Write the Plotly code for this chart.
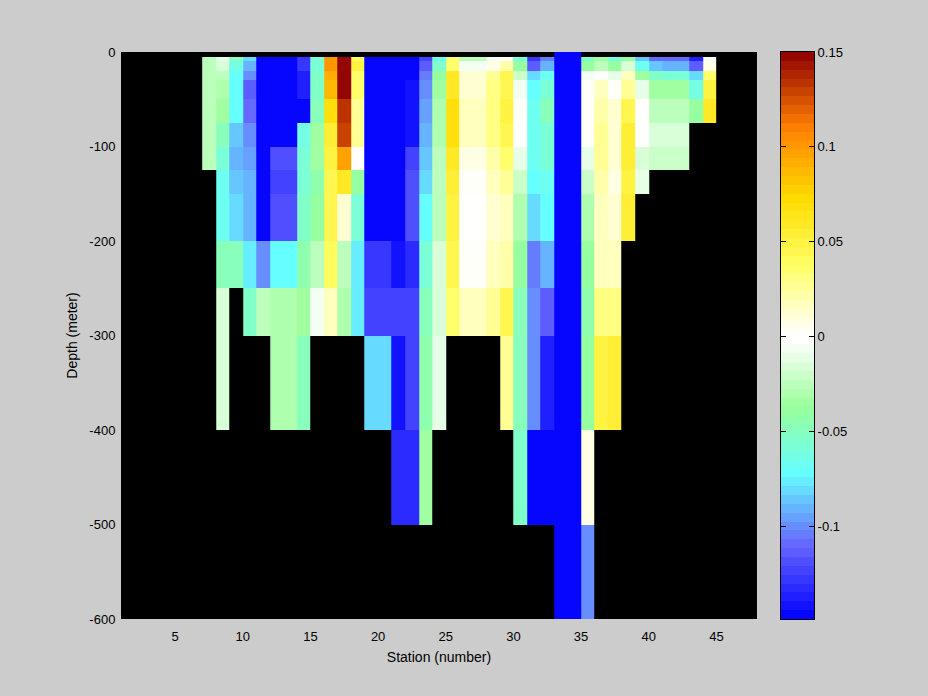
import numpy as np
import plotly.graph_objects as go

N = None
depth_edges = [0, -5, -10, -20, -30, -50, -75, -100, -125, -150, -200, -250, -300, -400, -500, -600]
station_edges = list(range(7, 46))

s07 = [N,-.027,-.027,-.027,-.027,-.027,-.027,-.027,N,N,N,N,N,N,N]
s08 = [N,-.013,-.018,-.024,-.030,-.035,-.050,-.060,-.068,-.068,-.050,-.017,-.017,N,N]
s09 = [N,-.050,-.062,-.070,-.072,-.072,-.085,-.090,-.085,-.082,-.048,N,N,N,N]
s10 = [N,-.082,-.092,-.100,-.115,-.110,-.100,-.093,-.090,-.090,-.078,-.052,N,N,N]
s11 = [N,-.145,-.145,-.145,-.145,-.145,-.145,-.145,-.145,-.145,-.102,-.027,N,N,N]
s12 = [N,-.145,-.145,-.145,-.145,-.145,-.145,-.118,-.124,-.117,-.072,-.032,-.032,N,N]
s13 = [N,-.145,-.145,-.145,-.145,-.145,-.145,-.118,-.124,-.117,-.072,-.032,-.032,N,N]
s14 = [N,-.126,-.130,-.139,-.136,-.145,-.062,-.056,-.058,-.055,-.044,-.035,-.050,N,N]
s15 = [N,-.060,-.060,-.055,-.055,-.047,-.036,-.036,-.043,-.037,-.023,-.008,N,N,N]
s16 = [N,.103,.103,.093,.087,.070,.056,.048,.046,.045,.042,.018,N,N,N]
s17 = [N,.148,.148,.148,.148,.133,.128,.095,.058,.014,-.025,-.030,N,N,N]
s18 = [N,.040,.050,.036,.036,.025,.026,-.002,-.037,-.057,-.075,-.075,N,N,N]
s19 = [N,-.145,-.145,-.145,-.145,-.145,-.145,-.145,-.145,-.145,-.130,-.124,-.083,N,N]
s20 = [N,-.145,-.145,-.145,-.145,-.145,-.145,-.145,-.145,-.145,-.130,-.124,-.083,N,N]
s21 = [N,-.145,-.145,-.145,-.145,-.145,-.145,-.145,-.145,-.145,-.144,-.124,-.143,-.134,N]
s22 = [N,-.145,-.145,-.145,-.143,-.143,-.143,-.122,-.117,-.118,-.132,-.124,-.122,-.134,N]
s23 = [N,-.122,-.113,-.105,-.098,-.094,-.092,-.086,-.080,-.072,-.060,-.050,-.045,-.033,N]
s24 = [N,-.065,-.053,-.040,-.036,-.031,-.028,-.027,-.023,-.023,-.017,-.017,-.009,N,N]
s25 = [N,.036,.036,.058,.060,.068,.068,.058,.055,.050,.045,.037,N,N,N]
s26 = [N,-.025,-.008,.012,.012,.019,.019,.008,.004,-.002,.004,.016,N,N,N]
s27 = [N,-.025,-.008,.012,.012,.019,.019,.008,.004,-.002,.004,.016,N,N,N]
s28 = [N,-.008,.007,.025,.032,.032,.032,.023,.015,.012,.015,.024,N,N,N]
s29 = [N,.000,.023,.044,.044,.050,.046,.036,.024,.016,.020,.045,.025,N,N]
s30 = [N,-.060,-.039,-.021,-.008,.004,-.002,-.012,-.020,-.028,-.037,-.048,-.048,-.055,N]
s31 = [N,-.126,-.113,-.082,-.072,-.066,-.066,-.068,-.072,-.082,-.103,-.102,-.098,-.145,N]
s32 = [N,-.103,-.090,-.068,-.058,-.050,-.057,-.060,-.065,-.072,-.092,-.115,-.138,-.145,N]
s33 = [-.148]*15
s34 = [-.148]*15
s35 = [N,-.052,-.037,-.008,.004,.004,.004,-.012,-.021,-.032,-.038,-.044,-.040,.006,-.100]
s36 = [N,-.035,-.025,.005,.016,.023,.027,.025,.020,.015,.015,.030,.050,N,N]
s37 = [N,-.062,-.040,-.012,.004,.010,.014,.014,.008,.012,.019,.030,.052,N,N]
s38 = [N,-.038,-.016,.015,.028,.043,.055,.052,.050,.052,N,N,N,N,N]
s39 = [N,-.085,-.065,-.033,-.012,-.002,-.002,-.017,-.010,N,N,N,N,N,N]
s40 = [N,-.110,-.087,-.053,-.036,-.024,-.018,-.022,N,N,N,N,N,N,N]
s41 = [N,-.110,-.092,-.060,-.036,-.026,-.018,-.022,N,N,N,N,N,N,N]
s42 = [N,-.110,-.092,-.060,-.036,-.026,-.018,-.022,N,N,N,N,N,N,N]
s43 = [N,-.139,-.113,-.082,-.062,-.041,N,N,N,N,N,N,N,N,N]
s44 = [N,-.007,.009,.035,.050,.058,N,N,N,N,N,N,N,N,N]

columns = [s07,s08,s09,s10,s11,s12,s13,s14,s15,s16,s17,s18,s19,s20,s21,s22,s23,s24,s25,s26,
           s27,s28,s29,s30,s31,s32,s33,s34,s35,s36,s37,s38,s39,s40,s41,s42,s43,s44]

x_ticks = [5, 10, 15, 20, 25, 30, 35, 40, 45]
y_ticks = [0, -100, -200, -300, -400, -500, -600]
y_labels = ["0", "-100", "-200", "-300", "-400", "-500", "-600"]
c_ticks = [-0.1, -0.05, 0, 0.05, 0.1, 0.15]
c_labels = ["-0.1", "-0.05", "0", "0.05", "0.1", "0.15"]
z_min, z_max = -0.149, 0.15

anchors = [(-0.149,(0,0,255)),(-0.11,(102,102,255)),(-0.072,(102,255,255)),(-0.037,(153,255,153)),
           (-0.003,(255,255,255)),(0.003,(255,255,250)),(0.037,(255,255,102)),(0.0725,(255,220,0)),
           (0.11,(255,128,0)),(0.15,(140,0,0))]
n_bands = 64
band_edges = np.linspace(z_min, z_max, n_bands + 1)
band_mid = (band_edges[:-1] + band_edges[1:]) / 2
vals = [a[0] for a in anchors]
rgb = np.array([[np.interp(m, vals, [a[1][i] for a in anchors]) for i in range(3)] for m in band_mid]).round().astype(int)
colorscale = []
for i in range(n_bands):
    c = f"rgb({rgb[i][0]},{rgb[i][1]},{rgb[i][2]})"
    colorscale.append([i / n_bands, c])
    colorscale.append([(i + 1) / n_bands, c])

W, H = 928, 696
L, R, T, B = 121, 114, 52, 77
PW = W - L - R
FONT = dict(family="Liberation Sans", size=13, color="black")

z = np.array([[np.nan if v is None else v for v in col] for col in columns], dtype=float).T

fig = go.Figure()
fig.add_trace(go.Heatmap(x=station_edges, y=depth_edges, z=z, zmin=z_min, zmax=z_max,
                         colorscale=colorscale, showscale=False, hoverongaps=False, xaxis="x", yaxis="y"))
fig.add_trace(go.Heatmap(x=[0, 1], y=band_edges, z=band_mid.reshape(-1, 1), zmin=z_min, zmax=z_max,
                         colorscale=colorscale, showscale=False, xaxis="x2", yaxis="y2"))

fig.update_layout(
    width=W, height=H, margin=dict(l=L, r=R, t=T, b=B, autoexpand=False),
    paper_bgcolor="#cccccc", plot_bgcolor="black", font=FONT, showlegend=False,
    xaxis=dict(domain=[0, 636/PW], range=[1, 48], tickmode="array", tickvals=x_ticks,
               ticks="outside", ticklen=5, tickcolor="#cccccc", showgrid=False, zeroline=False,
               showline=False, anchor="y", automargin=False,
               title=dict(text="Station (number)", standoff=9, font=dict(size=14))),
    yaxis=dict(domain=[0, 1], range=[-600, 0], tickmode="array", tickvals=y_ticks,
               ticktext=y_labels, ticks="outside", ticklen=2, tickcolor="#cccccc", showgrid=False,
               zeroline=False, showline=False, anchor="x", automargin=False,
               title=dict(text="Depth (meter)", standoff=8, font=dict(size=14))),
    xaxis2=dict(domain=[660/PW, 1], range=[0, 1], showticklabels=False, ticks="", showgrid=False,
                zeroline=False, showline=True, linecolor="black", linewidth=1, mirror=True, anchor="y2"),
    yaxis2=dict(domain=[0, 1], range=[z_min, z_max], side="right", tickmode="array",
                tickvals=c_ticks, ticktext=c_labels, ticks="inside", ticklen=5, tickcolor="black",
                showgrid=False, zeroline=False, showline=True, linecolor="black", linewidth=1,
                mirror="ticks", anchor="x2"),
)
fig.write_html("out.html", config=dict(displayModeBar=False),
               post_script="document.body.style.margin='0';document.documentElement.style.background='#cccccc';document.body.style.background='#cccccc';")
